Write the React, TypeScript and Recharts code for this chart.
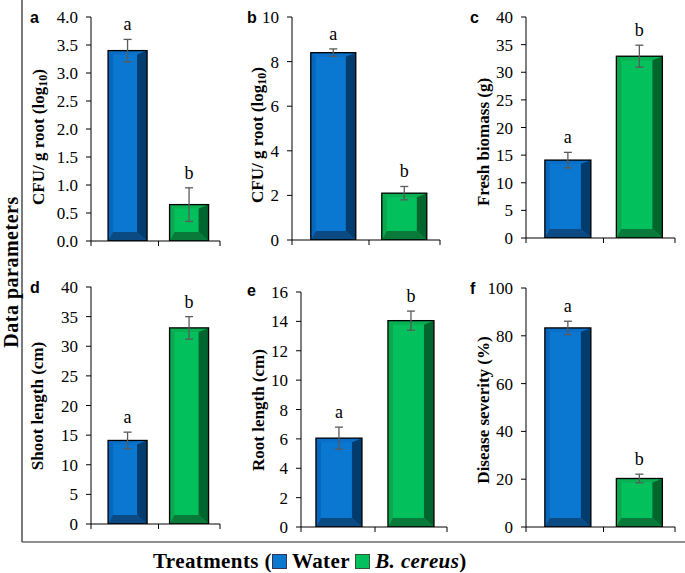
import React from 'react';
import { BarChart, Bar, XAxis, YAxis, ErrorBar, LabelList } from 'recharts';

// ---------- data ----------
const categories = ['Water', 'B. cereus'];
const significance = ['a', 'b'];

const cfuSoilMean = [3.4, 0.65];
const cfuSoilErr = [0.2, 0.3];
const cfuSoilTicks = [0, 0.5, 1, 1.5, 2, 2.5, 3, 3.5, 4];

const cfuRootMean = [8.4, 2.1];
const cfuRootErr = [0.17, 0.3];
const cfuRootTicks = [0, 2, 4, 6, 8, 10];

const biomassMean = [14.1, 32.9];
const biomassErr = [1.4, 2.0];
const biomassTicks = [0, 5, 10, 15, 20, 25, 30, 35, 40];

const shootMean = [14.1, 33.1];
const shootErr = [1.4, 1.9];
const shootTicks = [0, 5, 10, 15, 20, 25, 30, 35, 40];

const rootMean = [6.05, 14.05];
const rootErr = [0.75, 0.65];
const rootTicks = [0, 2, 4, 6, 8, 10, 12, 14, 16];

const severityMean = [83.3, 20.3];
const severityErr = [2.8, 1.8];
const severityTicks = [0, 20, 40, 60, 80, 100];

// ---------- styles ----------
const SERIF = '"Liberation Serif", "Times New Roman", serif';
const SANS = '"Liberation Sans", Arial, sans-serif';
const shades: Record<string, { face: string; left: string; top: string; right: string; bottom: string }> = {
  Water: { face: '#0A77D1', left: '#0867BC', top: '#0A6FC8', right: '#003C6E', bottom: '#0B4A82' },
  'B. cereus': { face: '#02C05C', left: '#0BA84E', top: '#0BB052', right: '#00662E', bottom: '#0A7A3A' },
};

function BevelBar(props: any) {
  const { x, y, width: w, height: h, payload } = props;
  if (!w || !h || h <= 0) return null;
  const c = shades[payload?.name] || shades.Water;
  const tl = 5;
  const tt = Math.min(4, h / 4);
  const br = 10;
  const bb = Math.min(9, h / 3);
  return (
    <g>
      <rect x={x} y={y} width={w} height={h} fill={c.face} />
      <polygon points={`${x},${y} ${x + tl},${y + tt} ${x + tl},${y + h - bb} ${x},${y + h}`} fill={c.left} />
      <polygon points={`${x},${y} ${x + w},${y} ${x + w - br},${y + tt} ${x + tl},${y + tt}`} fill={c.top} />
      <polygon points={`${x + w},${y} ${x + w},${y + h} ${x + w - br},${y + h - bb} ${x + w - br},${y + tt}`} fill={c.right} />
      <polygon points={`${x},${y + h} ${x + w},${y + h} ${x + w - br},${y + h - bb} ${x + tl},${y + h - bb}`} fill={c.bottom} />
      <rect x={x} y={y} width={w} height={h} fill="none" stroke="#000" strokeWidth={1.3} />
    </g>
  );
}

type PanelCfg = {
  letter: string;
  plot: [number, number, number, number];
  domain: [number, number];
  ticks: number[];
  fmt: (v: number) => string;
  title: React.ReactNode;
  titleX: number;
  titleY: number;
  padL: number;
  means: number[];
  errs: number[];
};

const YW = 72;
const MT = 12;
const XH = 10;

function Panel({ cfg }: { cfg: PanelCfg }) {
  const [pl, pr, pt, pb] = cfg.plot;
  const chartLeft = pl - YW;
  const chartTop = pt - MT;
  const plotW = pr - pl;
  const bw = (plotW - cfg.padL) / categories.length;
  const data = categories.map((name, i) => ({ name, mean: cfg.means[i], err: cfg.errs[i], sig: significance[i] }));

  const BoundaryTick = (p: any) => {
    const { x, y, index } = p;
    const lines: number[] = [];
    if (index === 0) lines.push(x - bw / 2 - cfg.padL);
    lines.push(x + bw / 2);
    return (
      <g>
        {lines.map((lx, k) => (
          <line key={k} x1={lx} x2={lx} y1={y} y2={y + 5} stroke="#000" strokeWidth={1} />
        ))}
      </g>
    );
  };

  const SigLabel = (p: any) => {
    const { x, y, width, height, index } = p;
    const d = data[index];
    if (!d) return null;
    const ppu = height / d.mean;
    const ey = y - d.err * ppu;
    return (
      <text x={x + width / 2} y={ey - 9} textAnchor="middle" fontFamily={SERIF} fontSize={18} fill="#000">
        {d.sig}
      </text>
    );
  };

  const TitleLabel = () => {
    const cx = cfg.titleX - chartLeft;
    const cy = cfg.titleY - chartTop;
    return (
      <text
        x={cx}
        y={cy}
        transform={`rotate(-90, ${cx}, ${cy})`}
        textAnchor="middle"
        dominantBaseline="central"
        fontFamily={SERIF}
        fontWeight="bold"
        fontSize={17}
        fill="#000"
      >
        {cfg.title}
      </text>
    );
  };

  return (
    <div style={{ position: 'absolute', left: chartLeft, top: chartTop }}>
      <BarChart
        width={YW + plotW + 6}
        height={MT + (pb - pt) + XH}
        data={data}
        margin={{ top: MT, right: 6, bottom: 0, left: 0 }}
        barCategoryGap="18%"
      >
        <XAxis
          dataKey="name"
          height={XH}
          axisLine={{ stroke: '#000', strokeWidth: 1 }}
          tickLine={false}
          tickSize={0}
          tickMargin={0}
          interval={0}
          padding={{ left: cfg.padL, right: 0 }}
          tick={<BoundaryTick />}
        />
        <YAxis
          width={YW}
          type="number"
          domain={cfg.domain}
          ticks={cfg.ticks}
          interval={0}
          allowDataOverflow
          tickFormatter={cfg.fmt}
          axisLine={{ stroke: '#000', strokeWidth: 1 }}
          tickLine={{ stroke: '#000', strokeWidth: 1 }}
          tickSize={5}
          tickMargin={8}
          tick={{ fill: '#000', fontSize: 17, fontFamily: SERIF }}
          label={{ content: <TitleLabel /> }}
        />
        <Bar dataKey="mean" isAnimationActive={false} shape={<BevelBar />}>
          <ErrorBar dataKey="err" width={4} stroke="#5a5a5a" strokeWidth={1.3} />
          <LabelList dataKey="sig" content={<SigLabel />} />
        </Bar>
      </BarChart>
    </div>
  );
}

const fmt1 = (v: number) => v.toFixed(1);
const fmt0 = (v: number) => String(v);

const log10Title = (
  <>
    <tspan>CFU/ g root (log</tspan>
    <tspan fontSize={12} dy={5}>10</tspan>
    <tspan dy={-5}>)</tspan>
  </>
);

const panels: PanelCfg[] = [
  { letter: 'a', plot: [91, 220, 17, 241], domain: [0, 4], ticks: cfuSoilTicks, fmt: fmt1, title: log10Title, titleX: 38, titleY: 137, padL: 6, means: cfuSoilMean, errs: cfuSoilErr },
  { letter: 'b', plot: [292, 440, 17, 240], domain: [0, 10], ticks: cfuRootTicks, fmt: fmt0, title: log10Title, titleX: 257, titleY: 135, padL: 6, means: cfuRootMean, errs: cfuRootErr },
  { letter: 'c', plot: [526, 675, 17, 238], domain: [0, 40], ticks: biomassTicks, fmt: fmt0, title: 'Fresh biomass (g)', titleX: 483, titleY: 142, padL: 6, means: biomassMean, errs: biomassErr },
  { letter: 'd', plot: [91, 220, 287, 524], domain: [0, 40], ticks: shootTicks, fmt: fmt0, title: 'Shoot length (cm)', titleX: 37, titleY: 406, padL: 6, means: shootMean, errs: shootErr },
  { letter: 'e', plot: [301, 447, 292, 527], domain: [0, 16], ticks: rootTicks, fmt: fmt0, title: 'Root length (cm)', titleX: 258, titleY: 410, padL: 2, means: rootMean, errs: rootErr },
  { letter: 'f', plot: [526, 675, 288, 527], domain: [0, 100], ticks: severityTicks, fmt: fmt0, title: 'Disease severity (%)', titleX: 483, titleY: 410, padL: 6, means: severityMean, errs: severityErr },
];

const letterPos: Record<string, [number, number]> = {
  a: [30, 23], b: [247, 23], c: [470, 23], d: [30, 293], e: [247, 296], f: [470, 294],
};

export default function App() {
  return (
    <div style={{ position: 'absolute', left: 0, top: 0, width: 685, height: 573, background: '#fff', overflow: 'hidden' }}>
      <svg width={685} height={573} style={{ position: 'absolute', left: 0, top: 0 }}>
        <line x1={22} y1={0} x2={22} y2={542} stroke="#222" strokeWidth={1.2} />
        <line x1={22} y1={542} x2={685} y2={542} stroke="#222" strokeWidth={1.2} />
        <text
          x={11}
          y={272}
          transform="rotate(-90, 11, 272)"
          textAnchor="middle"
          dominantBaseline="central"
          fontFamily={SERIF}
          fontWeight="bold"
          fontSize={20}
          letterSpacing={0.5}
          fill="#000"
        >
          Data parameters
        </text>
        {panels.map((p) => (
          <text key={p.letter} x={letterPos[p.letter][0]} y={letterPos[p.letter][1]} fontFamily={SANS} fontWeight="bold" fontSize={16} fill="#000">
            {p.letter}
          </text>
        ))}
      </svg>
      {panels.map((p) => (
        <Panel key={p.letter} cfg={p} />
      ))}
      <div
        style={{
          position: 'absolute',
          left: 153,
          top: 550,
          fontFamily: SERIF,
          fontWeight: 'bold',
          fontSize: 21,
          letterSpacing: 0.4,
          color: '#000',
          whiteSpace: 'nowrap',
          lineHeight: '22px',
        }}
      >
        Treatments (
        <span style={{ display: 'inline-block', width: 13, height: 13, background: shades.Water.face, border: '1px solid #335', marginRight: 5, verticalAlign: '-1px' }} />
        Water{' '}
        <span style={{ display: 'inline-block', width: 13, height: 13, background: shades['B. cereus'].face, border: '1px solid #353', marginRight: 5, verticalAlign: '-1px' }} />
        <i>B. cereus</i>)
      </div>
    </div>
  );
}
